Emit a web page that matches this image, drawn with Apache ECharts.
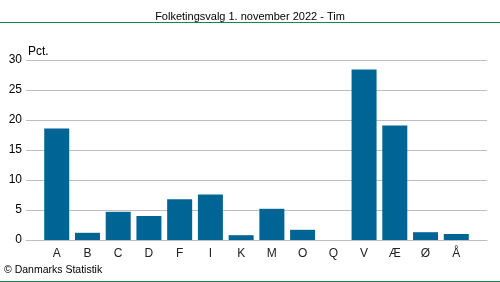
<!DOCTYPE html>
<html><head><meta charset="utf-8">
<script src="https://cdn.jsdelivr.net/npm/echarts@6/dist/echarts.min.js"></script>
<style>html,body{margin:0;padding:0;background:#fff}#c{width:500px;height:282px}</style>
</head><body><div id="c"></div>
<script>
const categories = ['A','B','C','D','F','I','K','M','O','Q','V','Æ','Ø','Å'];
const values = [18.6, 1.2, 4.7, 4.0, 6.8, 7.6, 0.8, 5.2, 1.7, 0.0, 28.4, 19.1, 1.3, 1.0];
const yTicks = [0, 5, 10, 15, 20, 25, 30];

const chart = echarts.init(document.getElementById('c'), null, {renderer:'canvas'});
const font = '"Liberation Sans", Arial, sans-serif';
chart.setOption({
  animation: false,
  title: {
    text: 'Folketingsvalg 1. november 2022 - Tim',
    left: 'center', top: 6,
    textStyle: {fontFamily: font, fontSize: 11, fontWeight: 'normal', color: '#000'}
  },
  grid: {left: 26, right: 13, top: 60, bottom: 42, containLabel: false},
  xAxis: {
    type: 'value', min: 0, max: categories.length + 1, interval: 1,
    splitLine: {show: false},
    axisTick: {show: false},
    axisLine: {show: true, lineStyle: {color: '#bdbdc6', width: 1}},
    axisLabel: {
      fontFamily: font, fontSize: 12, color: '#222', margin: 8,
      formatter: v => categories[v - 1] || ''
    }
  },
  yAxis: {
    type: 'value', min: yTicks[0], max: yTicks[yTicks.length - 1], interval: 5,
    name: 'Pct.', nameLocation: 'end', nameGap: 2,
    nameTextStyle: {fontFamily: font, fontSize: 12, color: '#000', align: 'left', padding: [0,0,0,2]},
    axisLine: {show: false}, axisTick: {show: false},
    axisLabel: {fontFamily: font, fontSize: 12, color: '#000', margin: 4},
    splitLine: {lineStyle: {color: '#bdbdc6', width: 1}}
  },
  series: [{
    type: 'bar',
    data: values.map((v, i) => [i + 1, v]),
    barWidth: 25,
    itemStyle: {color: '#006495'}
  }],
  graphic: [
    {type: 'line', shape: {x1: 0, y1: 22.5, x2: 500, y2: 22.5}, style: {stroke: '#16864a', lineWidth: 1}},
    {type: 'line', shape: {x1: 0, y1: 281.5, x2: 500, y2: 281.5}, style: {stroke: '#16864a', lineWidth: 1}},
    {type: 'text', left: 4, top: 265, style: {text: '© Danmarks Statistik', fontFamily: font, fontSize: 10.5, fill: '#000'}}
  ]
});
</script></body></html>
